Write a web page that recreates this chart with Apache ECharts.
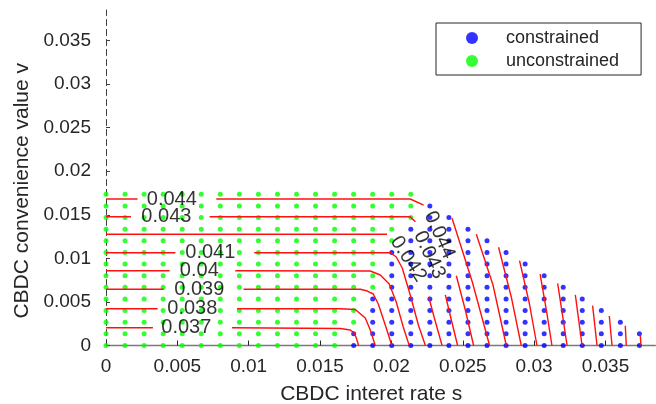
<!DOCTYPE html>
<html>
<head>
<meta charset="utf-8">
<script src="https://cdn.jsdelivr.net/npm/echarts@6/dist/echarts.min.js"></script>
<style>
  html, body { margin: 0; padding: 0; background: #fff; }
  #myChart { width: 656px; height: 404px; }
</style>
</head>
<body>
<div id="myChart"></div>
<script>
  // sample grid (s, v)
  var sGrid = [0, 0.001335, 0.00267, 0.004005, 0.00534, 0.006675, 0.00801, 0.009345, 0.01068, 0.012015,
    0.01335, 0.014685, 0.01602, 0.017355, 0.01869, 0.020025, 0.02136, 0.022695, 0.02403, 0.025365,
    0.0267, 0.028035, 0.02937, 0.030705, 0.03204, 0.033375, 0.03471, 0.036045, 0.03738];
  var vGrid = [0, 0.001335, 0.00267, 0.004005, 0.00534, 0.006675, 0.00801, 0.009345, 0.01068, 0.012015,
    0.01335, 0.014685, 0.01602, 0.017355];
  // number of points in each column, and how many of them (from the bottom) are constrained
  var colCount = [14, 14, 14, 14, 14, 14, 14, 14, 14, 14, 14, 14, 14, 14, 14, 14, 14,
    13, 12, 11, 10, 9, 8, 7, 6, 5, 4, 3, 2];
  var colConstrained = [0, 0, 0, 0, 0, 0, 0, 0, 0, 0, 0, 0, 0, 2, 5, 9, 11,
    13, 12, 11, 10, 9, 8, 7, 6, 5, 4, 3, 2];

  // contour lines, each one a list of pieces (gaps where the labels sit)
  var contourLines = [
    [[[0, 0.00204], [0.00329, 0.00204]],
     [[0.00883, 0.00204], [0.01642, 0.00195], [0.01712, 0.00178], [0.0174, 0.00143], [0.01754, 0.00086], [0.0177, 0]]],
    [[[0, 0.00422], [0.00362, 0.00422]],
     [[0.00918, 0.00422], [0.01642, 0.00422], [0.01747, 0.00413], [0.01817, 0.00316], [0.01852, 0.00178], [0.01887, 0]]],
    [[[0, 0.00645], [0.00404, 0.00645]],
     [[0.00964, 0.00645], [0.01782, 0.00645], [0.01831, 0.00625], [0.01873, 0.00591], [0.01908, 0.00476], [0.01957, 0.00235], [0.02003, 0]]],
    [[[0, 0.00858], [0.00446, 0.00858]],
     [[0.00906, 0.00858], [0.01852, 0.00855], [0.01922, 0.00809], [0.01985, 0.00706], [0.02034, 0.00499], [0.02083, 0.00212], [0.02125, 0]]],
    [[[0, 0.01065], [0.00486, 0.01065]],
     [[0.01039, 0.01065], [0.01992, 0.01065], [0.02034, 0.01016], [0.02076, 0.00889], [0.02132, 0.0058], [0.02189, 0.00235], [0.02238, 0]]],
    [[[0, 0.01276], [0.01969, 0.01276]],
     [[0.02261, 0.0056], [0.02301, 0.00316], [0.02355, 0]]],
    [[[0, 0.01478], [0.00175, 0.01478]],
     [[0.00726, 0.01478], [0.02132, 0.01478], [0.02168, 0.01421]],
     [[0.02378, 0.0058], [0.0242, 0.00293], [0.02464, 0]]],
    [[[0, 0.01681], [0.00221, 0.01681]],
     [[0.00773, 0.01681], [0.02132, 0.01681], [0.02226, 0.01612]],
     [[0.02455, 0.00801], [0.02518, 0.00407], [0.02576, 0]]],
    [[[0.02425, 0.0146], [0.02567, 0.00729], [0.02688, 0]]],
    [[[0.02595, 0.01276], [0.02712, 0.00694], [0.02805, 0]]],
    [[[0.02751, 0.01127], [0.0284, 0.00557], [0.0291, 0]]],
    [[[0.02898, 0.00973], [0.02966, 0.00488], [0.0302, 0]]],
    [[[0.03042, 0.0082], [0.03086, 0.00407], [0.03125, 0]]],
    [[[0.03165, 0.00714], [0.03198, 0.00361], [0.03231, 0]]],
    [[[0.03289, 0.0058], [0.03336, 0]]],
    [[[0.0341, 0.00457], [0.03441, 0]]],
    [[[0.03527, 0.00339], [0.03546, 0]]],
    [[[0.03639, 0.00227], [0.03646, 0]]],
    [[[0.03744, 0.0012], [0.03749, 0]]]
  ];

  // contour labels
  var labelText = ['0.044', '0.043', '0.041', '0.04', '0.039', '0.038', '0.037', '0.044', '0.043', '0.042'];
  var labelS = [0.00461, 0.00423, 0.00731, 0.00654, 0.00654, 0.00605, 0.00563, 0.02336, 0.02266, 0.02118];
  var labelV = [0.01681, 0.01478, 0.01065, 0.00858, 0.00645, 0.00422, 0.00204, 0.01268, 0.01039, 0.00993];
  var labelRot = [0, 0, 0, 0, 0, 0, 0, -66, -65, -57];

  var font = "'Liberation Sans', Arial, Helvetica, sans-serif";

  var constrained = [], unconstrained = [];
  for (var i = 0; i < sGrid.length; i++) {
    for (var j = 0; j < colCount[i]; j++) {
      if (j < colConstrained[i]) constrained.push([sGrid[i], vGrid[j]]);
      else unconstrained.push([sGrid[i], vGrid[j]]);
    }
  }

  var series = [];
  series.push({
    name: 'constrained', type: 'scatter', symbol: 'circle', symbolSize: 5,
    itemStyle: { color: '#0000ff' }, data: constrained, z: 2, animation: false
  });
  series.push({
    name: 'unconstrained', type: 'scatter', symbol: 'circle', symbolSize: 5,
    itemStyle: { color: '#00ff00' }, data: unconstrained, z: 2, animation: false
  });
  contourLines.forEach(function (pieces) {
    pieces.forEach(function (p) {
      series.push({
        type: 'line', data: p, showSymbol: false, silent: true, z: 3, animation: false,
        itemStyle: { color: '#ff0000' },
        lineStyle: { color: '#ff1010', width: 1.4 }
      });
    });
  });
  series.push({
    type: 'scatter', symbolSize: 1, silent: true, z: 4, animation: false,
    itemStyle: { color: 'rgba(0,0,0,0)' },
    data: labelText.map(function (t, k) {
      return {
        value: [labelS[k], labelV[k]],
        label: { show: true, position: 'inside', formatter: t, rotate: labelRot[k],
          color: '#000', fontSize: 20, fontFamily: font }
      };
    })
  });

  var tickFmt = function (val) { return val === 0 ? '0' : String(+val.toFixed(3)); };

  var myChart = echarts.init(document.getElementById('myChart'));
  myChart.setOption({
    backgroundColor: '#fff',
    animation: false,
    grid: { left: 106, right: 0.6, top: 10, bottom: 58.5, containLabel: false, outerBoundsMode: 'none' },
    legend: {
      data: ['constrained', 'unconstrained'],
      orient: 'vertical', left: 436, top: 23,
      padding: [6, 22, 5, 30],
      borderColor: '#262626', borderWidth: 1, backgroundColor: '#fff',
      itemWidth: 12, itemHeight: 12, itemGap: 5,
      textStyle: { fontSize: 18, lineHeight: 18, fontFamily: font, color: '#262626', padding: [0, 0, 0, 23] }
    },
    xAxis: {
      type: 'value', min: 0, max: 0.0385, interval: 0.005,
      name: 'CBDC interet rate s', nameLocation: 'middle', nameGap: 38,
      nameTextStyle: { fontSize: 21, fontFamily: font, color: '#262626', padding: [0, 19, 0, 0] },
      axisLine: { show: true, onZero: false, lineStyle: { color: '#7a7a7a', width: 1.3 } },
      axisTick: { show: true, inside: true, length: 5, lineStyle: { color: '#262626' } },
      axisLabel: { fontSize: 19, fontFamily: font, color: '#262626', margin: 12, formatter: tickFmt,
        showMaxLabel: false },
      splitLine: { show: false }
    },
    yAxis: {
      type: 'value', min: 0, max: 0.0385, interval: 0.005,
      name: 'CBDC convenience value v', nameLocation: 'middle', nameGap: 68,
      nameTextStyle: { fontSize: 21, fontFamily: font, color: '#262626', padding: [0, 26, 0, 0] },
      axisLine: { show: true, onZero: false, lineStyle: { color: '#404040', width: 1, type: [6, 4] } },
      axisTick: { show: true, inside: true, length: 4, lineStyle: { color: '#404040' } },
      axisLabel: { fontSize: 19, fontFamily: font, color: '#262626', margin: 15, formatter: tickFmt,
        showMaxLabel: false },
      splitLine: { show: false }
    },
    series: series
  });
</script>
</body>
</html>
